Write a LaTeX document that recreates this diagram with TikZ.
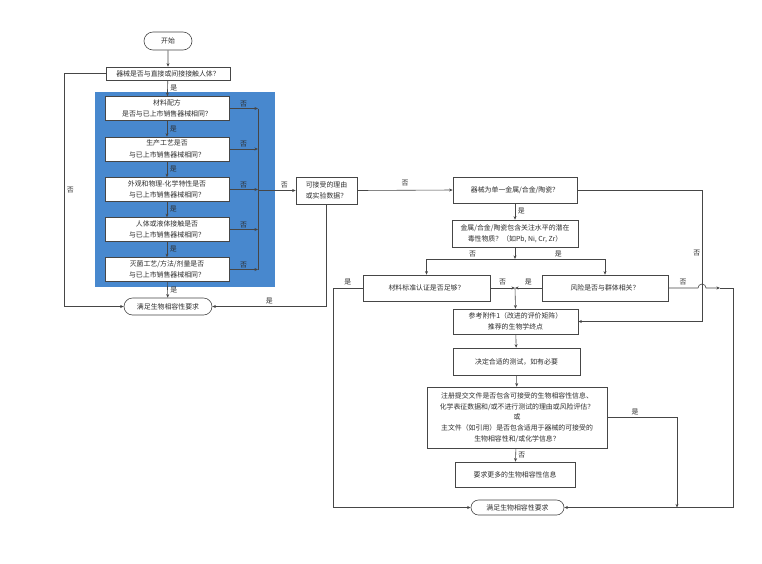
\documentclass[tikz,border=0pt]{standalone}
\usepackage{fontspec}
\newfontfamily\cjk{Noto Sans CJK SC}
\usetikzlibrary{arrows.meta,shapes.misc,calc}
\definecolor{bluebg}{RGB}{72,136,206}
\definecolor{ln}{RGB}{70,70,70}
\definecolor{tx}{RGB}{45,45,45}
\tikzset{
  box/.style={draw=ln, fill=white, line width=0.6pt, align=center, inner sep=1pt,
    text=tx, font=\cjk\fontsize{6.9}{11.5}\selectfont},
  term/.style={rounded rectangle, draw=ln, fill=white, line width=0.6pt, inner sep=1pt,
    text=tx, font=\cjk\fontsize{6.9}{11}\selectfont},
  lbl/.style={inner sep=0.5pt, text=tx, font=\cjk\fontsize{6.9}{8}\selectfont},
  arr/.style={-{Stealth[length=3.6pt,width=3pt]}, line width=0.6pt, draw=ln},
  ln0/.style={line width=0.6pt, draw=ln},
}
\begin{document}
\begin{tikzpicture}[x=1pt,y=-1pt]
\useasboundingbox[fill=white] (0,0) rectangle (762,563);
% blue background
\fill[bluebg] (95,92) rectangle (275,287);
% left column
\node[term, minimum width=50, minimum height=18] (start) at (168,41) {开始};
\node[box, minimum width=124, minimum height=13] (q0) at (168,73.5) {器械是否与直接或间接接触人体？};
\node[box, minimum width=124, minimum height=24] (b1) at (167,108.5) {材料配方\\是否与已上市销售器械相同？};
\node[box, minimum width=124, minimum height=24] (b2) at (167,149) {生产工艺是否\\与已上市销售器械相同？};
\node[box, minimum width=124, minimum height=24] (b3) at (167,189.5) {外观和物理-化学特性是否\\与已上市销售器械相同？};
\node[box, minimum width=124, minimum height=24] (b4) at (167,229.5) {人体或液体接触是否\\与已上市销售器械相同？};
\node[box, minimum width=124, minimum height=24] (b5) at (167,269.5) {灭菌工艺/方法/剂量是否\\与已上市销售器械相同？};
\node[term, minimum width=90, minimum height=17] (end1) at (168,306.5) {满足生物相容性要求};
\node[box, minimum width=61, minimum height=27] (acc) at (326.5,190.5) {可接受的理由\\或实验数据？};
% right column
\node[box, minimum width=124, minimum height=26] (m1) at (515,190) {器械为单一金属/合金/陶瓷？};
\node[box, minimum width=126, minimum height=27] (m2) at (515,233.5) {金属/合金/陶瓷包含关注水平的潜在\\毒性物质？（如Pb, Ni, Cr, Zr）};
\node[box, minimum width=127, minimum height=26] (std) at (426.5,288) {材料标准认证是否足够？};
\node[box, minimum width=126, minimum height=26] (risk) at (605,288) {风险是否与群体相关？};
\node[box, minimum width=125, minimum height=25] (ref) at (515.5,321.5) {参考附件1（改进的评价矩阵）\\推荐的生物学终点};
\node[box, minimum width=127, minimum height=27] (dec) at (516.5,361.5) {决定合适的测试，如有必要};
\node[box, minimum width=180, minimum height=61, font=\cjk\fontsize{6.9}{10.8}\selectfont] (big) at (517,417.5) {注册提交文件是否包含可接受的生物相容性信息、\\化学表征数据和/或不进行测试的理由或风险评估？\\或\\主文件（如引用）是否包含适用于器械的可接受的\\生物相容性和/或化学信息？};
\node[box, minimum width=120, minimum height=25] (more) at (515,474.5) {要求更多的生物相容性信息};
\node[term, minimum width=95, minimum height=15] (end2) at (517.5,507.5) {满足生物相容性要求};
% helper coordinates
\coordinate (barx) at (258,0);
\coordinate (lx) at (64,0);
\coordinate (j1) at (515,259);
\coordinate (jc) at (515,288);
\coordinate (rx) at (702,0);
\coordinate (stdx) at (333,0);
\coordinate (rr) at (733,0);
\coordinate (yx) at (677,0);
\coordinate (hopA) at (698,288);
\coordinate (midA) at (720,288);
% left column connectors
\draw[arr] (start) -- (q0);
\draw[arr] (q0) -- (b1) node[lbl, midway, right=2pt] {是};
\draw[arr] (b1) -- (b2) node[lbl, midway, right=2pt] {是};
\draw[arr] (b2) -- (b3) node[lbl, midway, right=2pt] {是};
\draw[arr] (b3) -- (b4) node[lbl, midway, right=2pt] {是};
\draw[arr] (b4) -- (b5) node[lbl, midway, right=2pt] {是};
\draw[arr] (b5) -- (end1) node[lbl, midway, right=2pt] {是};
\draw[arr] (q0.west) -| (lx |- end1.west) node[lbl, pos=0.75, right=2pt] {否} -- (end1.west);
\foreach \b in {b1,b2,b3,b4,b5}{
  \draw[arr] (\b.east) -- (\b.east -| barx) node[lbl, midway, above=1pt] {否};
}
\draw[ln0] (b1.east -| barx) -- (b5.east -| barx);
\draw[arr] (acc.west -| barx) -- (acc.west) node[lbl, pos=0.7, above=1.5pt] {否};
\draw[arr] (acc.south) |- (end1.east) node[lbl, pos=0.75, above=2pt] {是};
% right side connectors
\draw[arr] (acc.east) -- (m1.west) node[lbl, midway, above=3pt] {否};
\draw[arr] (m1.east) -| (rx |- ref.east) node[lbl, pos=0.74, left=1pt] {否} -- (ref.east);
\draw[arr] (m1) -- (m2) node[lbl, midway, right=2pt] {是};
\draw[arr] (m2.south) -- (j1);
\draw[arr] (j1) -| (std.north) node[lbl, pos=0.24, above=1.5pt] {否};
\draw[arr] (j1) -| (risk.north) node[lbl, pos=0.24, above=1.5pt] {是};
\draw[arr] (std.east) -- (jc) node[lbl, midway, above=2pt] {否};
\draw[arr] (risk.west) -- (jc) node[lbl, midway, above=2pt] {是};
\draw[arr] (jc) -- (ref.north);
\draw[arr] (std.west) -- (std.west -| stdx) node[lbl, midway, above=2pt] {是} |- (end2.west);
\draw[arr] (risk.east) -- (hopA) node[lbl, midway, above=2pt] {否} arc[start angle=180, end angle=360, radius=4] -- (midA);
\draw[arr] (midA) -- (rr |- risk.east) |- (end2.east);
\draw[arr] (ref) -- (dec);
\draw[arr] (dec) -- (big);
\draw[arr] (big) -- (more) node[lbl, midway, right=2pt] {否};
\draw[arr] (big.east) -| (yx |- end2.east) node[lbl, pos=0.2, above=2pt] {是};
\end{tikzpicture}
\end{document}
